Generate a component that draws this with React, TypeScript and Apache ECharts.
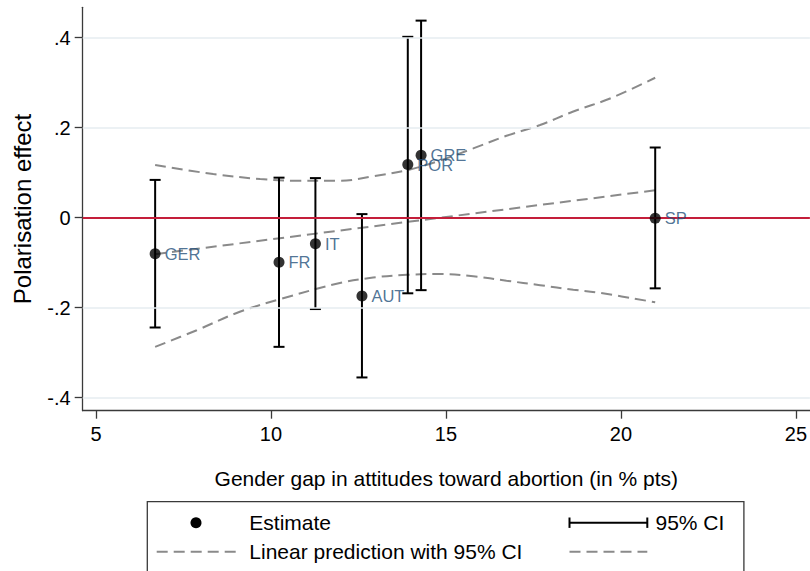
import React, { useEffect, useRef } from "react";
import * as echarts from "echarts";

const countries = ["GER", "FR", "IT", "AUT", "POR", "GRE", "SP"];
const genderGap = [6.69, 10.23, 11.27, 12.6, 13.91, 14.29, 20.98];
const estimate = [-0.08, -0.099, -0.058, -0.174, 0.118, 0.139, -0.001];
const ciLow = [-0.244, -0.287, -0.203, -0.355, -0.168, -0.161, -0.157];
const ciHigh = [0.084, 0.089, 0.088, 0.008, 0.402, 0.438, 0.156];

const fitX = [6.69, 20.98];
const fitY = [-0.081, 0.061];

const upperX = [6.69, 8.35, 9.69, 10.73, 11.97, 12.92, 13.91, 14.83, 15.78, 16.73, 17.69, 18.64, 19.69, 20.98];
const upperY = [0.117, 0.097, 0.086, 0.082, 0.082, 0.092, 0.106, 0.127, 0.154, 0.182, 0.206, 0.236, 0.265, 0.311];
const lowerX = [6.69, 7.88, 9.11, 10.26, 11.97, 12.92, 13.88, 14.83, 15.78, 16.73, 17.69, 18.64, 19.4, 20.98];
const lowerY = [-0.287, -0.25, -0.209, -0.181, -0.145, -0.133, -0.127, -0.125, -0.13, -0.14, -0.15, -0.16, -0.167, -0.188];

const xTicks = [5, 10, 15, 20, 25];
const yTicks = [-0.4, -0.2, 0, 0.2, 0.4];
const gridValues = [-0.4, -0.2, 0.2, 0.4];
const zeroValue = [0];

const FONT = "'Liberation Sans', Arial, Helvetica, sans-serif";

function fmtY(v: number): string {
  if (v === 0) return "0";
  const s = String(Math.abs(v)).replace(/^0/, "");
  return (v < 0 ? "-" : "") + s;
}

export default function App() {
  const ref = useRef<HTMLDivElement>(null);

  useEffect(() => {
    if (!ref.current) return;
    const chart = echarts.init(ref.current, null, { renderer: "svg" });
    const axisColor = "#3a3a3a";
    const dashColor = "#8a8a8a";
    const dash = [11, 6];

    const option: any = {
      animation: false,
      backgroundColor: "#ffffff",
      grid: { left: 82.7, top: 7.3, right: 0, bottom: 160.3, containLabel: false },
      xAxis: {
        type: "value",
        min: 4.62,
        max: 25.4,
        name: "Gender gap in attitudes toward abortion (in % pts)",
        nameLocation: "middle",
        nameGap: 57,
        nameTextStyle: { fontFamily: FONT, fontSize: 21, color: "#000" },
        axisLine: { show: true, onZero: false, lineStyle: { color: axisColor, width: 1.3 } },
        axisTick: { show: true, length: 8, customValues: xTicks, lineStyle: { color: axisColor, width: 1.3 } },
        axisLabel: { customValues: xTicks, margin: 13, fontFamily: FONT, fontSize: 20, color: "#000" },
        splitLine: { show: false },
      },
      yAxis: {
        type: "value",
        min: -0.4289,
        max: 0.4676,
        name: "Polarisation effect",
        nameLocation: "middle",
        nameGap: 48,
        nameTextStyle: { fontFamily: FONT, fontSize: 24, color: "#000" },
        axisLine: { show: true, onZero: false, lineStyle: { color: axisColor, width: 1.3 } },
        axisTick: { show: true, length: 8, customValues: yTicks, lineStyle: { color: axisColor, width: 1.3 } },
        axisLabel: {
          customValues: yTicks,
          margin: 12,
          fontFamily: FONT,
          fontSize: 20,
          color: "#000",
          formatter: (v: number) => fmtY(v),
        },
        splitLine: { show: false },
      },
      series: [
        {
          type: "line",
          data: [],
          z: 1,
          silent: true,
          markLine: {
            silent: true,
            symbol: "none",
            label: { show: false },
            lineStyle: { color: "#e6edf0", width: 1.5, type: "solid" },
            data: gridValues.map((v) => ({ yAxis: v })),
          },
        },
        {
          type: "line",
          data: [],
          z: 2,
          silent: true,
          markLine: {
            silent: true,
            symbol: "none",
            label: { show: false },
            lineStyle: { color: "#c41e3a", width: 2, type: "solid" },
            data: zeroValue.map((v) => ({ yAxis: v })),
          },
        },
        {
          type: "line",
          z: 3,
          data: upperX.map((x, i) => [x, upperY[i]]),
          showSymbol: false,
          smooth: 0.35,
          lineStyle: { color: dashColor, width: 2, type: dash },
        },
        {
          type: "line",
          z: 3,
          data: lowerX.map((x, i) => [x, lowerY[i]]),
          showSymbol: false,
          smooth: 0.35,
          lineStyle: { color: dashColor, width: 2, type: dash },
        },
        {
          type: "line",
          z: 3,
          data: fitX.map((x, i) => [x, fitY[i]]),
          showSymbol: false,
          lineStyle: { color: dashColor, width: 2, type: dash },
        },
        {
          type: "custom",
          z: 4,
          data: genderGap.map((x, i) => [x, ciLow[i], ciHigh[i]]),
          encode: { x: 0, y: [1, 2] },
          renderItem: (params: any, api: any) => {
            const x = api.value(0);
            const pLo = api.coord([x, api.value(1)]);
            const pHi = api.coord([x, api.value(2)]);
            const cw = 5.5;
            const st = { stroke: "#000", lineWidth: 2 };
            return {
              type: "group",
              children: [
                { type: "line", shape: { x1: pLo[0], y1: pLo[1], x2: pHi[0], y2: pHi[1] }, style: st },
                { type: "line", shape: { x1: pLo[0] - cw, y1: pLo[1], x2: pLo[0] + cw, y2: pLo[1] }, style: st },
                { type: "line", shape: { x1: pHi[0] - cw, y1: pHi[1], x2: pHi[0] + cw, y2: pHi[1] }, style: st },
              ],
            };
          },
        },
        {
          type: "scatter",
          z: 5,
          symbol: "circle",
          symbolSize: 11,
          itemStyle: { color: "#000" },
          data: genderGap.map((x, i) => ({ value: [x, estimate[i]], name: countries[i] })),
          label: {
            show: true,
            position: "right",
            distance: 4,
            formatter: (p: any) => p.name,
            fontFamily: FONT,
            fontSize: 16.5,
            color: "#234f7a",
          },
        },
      ],
      graphic: [
        {
          type: "rect",
          shape: { x: 147.3, y: 501.7, width: 596.6, height: 120 },
          style: { fill: "#fff", stroke: "#3a3a3a", lineWidth: 1.3 },
        },
        { type: "circle", shape: { cx: 196, cy: 522.7, r: 5.5 }, style: { fill: "#000" } },
        {
          type: "text",
          x: 249.3,
          y: 522.7,
          style: { text: "Estimate", fontFamily: FONT, fontSize: 21, fill: "#000", verticalAlign: "middle", align: "left" },
        },
        {
          type: "line",
          shape: { x1: 156.7, y1: 551.7, x2: 235.7, y2: 551.7 },
          style: { stroke: dashColor, lineWidth: 2, lineDash: [11, 6] },
        },
        {
          type: "text",
          x: 249.3,
          y: 551.7,
          style: {
            text: "Linear prediction with 95% CI",
            fontFamily: FONT,
            fontSize: 21,
            fill: "#000",
            verticalAlign: "middle",
            align: "left",
          },
        },
        { type: "line", shape: { x1: 569.5, y1: 522.7, x2: 647.3, y2: 522.7 }, style: { stroke: "#000", lineWidth: 2 } },
        { type: "line", shape: { x1: 569.5, y1: 517.5, x2: 569.5, y2: 527.9 }, style: { stroke: "#000", lineWidth: 2 } },
        { type: "line", shape: { x1: 647.3, y1: 517.5, x2: 647.3, y2: 527.9 }, style: { stroke: "#000", lineWidth: 2 } },
        {
          type: "text",
          x: 655.5,
          y: 522.7,
          style: { text: "95% CI", fontFamily: FONT, fontSize: 21, fill: "#000", verticalAlign: "middle", align: "left" },
        },
        {
          type: "line",
          shape: { x1: 569.5, y1: 551.7, x2: 647.3, y2: 551.7 },
          style: { stroke: dashColor, lineWidth: 2, lineDash: [11, 6] },
        },
      ],
    };

    chart.setOption(option);
    return () => {
      chart.dispose();
    };
  }, []);

  return (
    <div
      ref={ref}
      style={{ position: "absolute", left: 0, top: 0, width: 810, height: 571, background: "#fff" }}
    />
  );
}
